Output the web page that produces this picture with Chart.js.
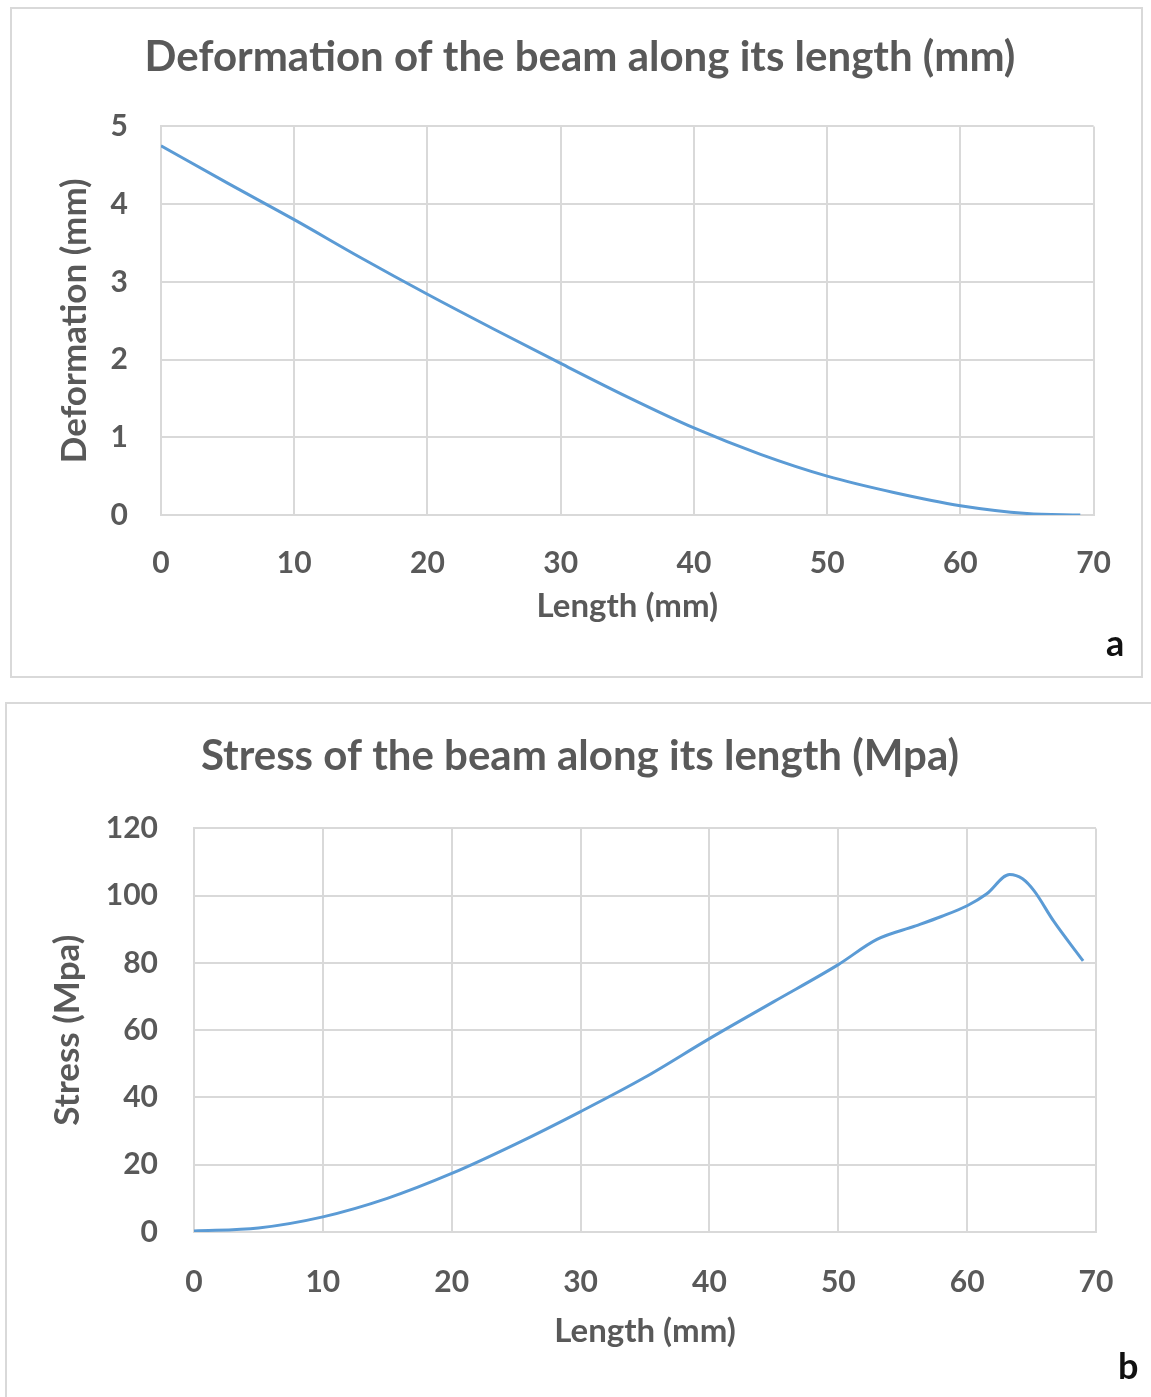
<!DOCTYPE html>
<html lang="en">
<head>
    <meta charset="UTF-8">
    <title>Beam deformation and stress</title>
    <script src="https://cdn.jsdelivr.net/npm/chart.js"></script>
    <style>
        html, body { margin: 0; padding: 0; background: #fff; overflow: hidden; width: 1151px; height: 1397px; }
        .box { position: absolute; box-sizing: border-box; border: 2px solid #d9d9d9; background: #fff; }
        #boxA { left: 10px; top: 7px; width: 1133px; height: 671px; }
        #boxB { left: 5px; top: 702px; width: 1160px; height: 710px; }
        .tag { position: absolute; font-family: Lato, sans-serif; font-weight: bold; font-size: 36px; color: #111; }
    </style>
</head>
<body>
    <div class="box" id="boxA"><canvas id="chartA"></canvas></div>
    <div class="box" id="boxB"><canvas id="chartB"></canvas></div>
    <div class="tag" style="left:1106px; top:620px;">a</div>
    <div class="tag" style="left:1118px; top:1343px;">b</div>

<script>
    // valores (mm)
    var lengthA = [0, 5, 10, 15, 20, 25, 30, 35, 40, 45, 50, 55, 60, 65, 69];
    var deformation = [4.75, 4.27, 3.80, 3.31, 2.84, 2.39, 1.95, 1.52, 1.12, 0.78, 0.50, 0.29, 0.12, 0.02, 0.0];

    var lengthB = [0, 5, 10, 15, 20, 25, 30, 35, 40, 45, 50, 53, 56, 58, 60, 61.5, 63.3, 64.3, 65.2, 66.7, 69];
    var stress = [0.3, 1.2, 4.5, 10, 17.4, 26.2, 35.8, 46, 57.5, 68.5, 79.5, 87, 91, 93.8, 97, 100.5, 106.3, 105, 101.4, 92.5, 80.6];

    var xTicks = [0, 10, 20, 30, 40, 50, 60, 70];

    var grey = '#595959';
    var gridColor = '#d9d9d9';
    var lineColor = '#5b9bd5';
    var fam = 'Lato, sans-serif';

    function pontos(xs, ys) {
        var out = [];
        for (let i = 0; i < xs.length; i++) {
            out.push({ x: xs[i], y: ys[i] });
        }
        return out;
    }

    function montar(ctx, cfg) {
        return new Chart(ctx, {
            type: 'scatter',
            data: {
                datasets: [{
                    data: pontos(cfg.xs, cfg.ys),
                    showLine: true,
                    borderColor: lineColor,
                    borderWidth: 3,
                    pointRadius: 0,
                    cubicInterpolationMode: 'monotone',
                    fill: false
                }]
            },
            options: {
                responsive: true,
                maintainAspectRatio: false,
                animation: false,
                // padding esquerda tambem serve pra centralizar o titulo
                layout: { padding: { left: cfg.padLeft, right: cfg.padRight, top: 0, bottom: 0 } },
                plugins: {
                    legend: { display: false },
                    tooltip: { enabled: false },
                    title: {
                        display: true,
                        text: cfg.title,
                        color: grey,
                        font: { family: fam, size: 42, weight: 'bold' },
                        padding: { top: cfg.titleTop, bottom: cfg.titleBottom }
                    }
                },
                scales: {
                    x: {
                        type: 'linear',
                        min: 0,
                        max: 70,
                        afterBuildTicks: function (s) { s.ticks = xTicks.map(v => ({ value: v })); },
                        afterFit: function (s) { s.height = cfg.xHeight; },
                        ticks: { color: grey, font: { family: fam, size: 30, weight: 'bold' }, padding: cfg.xTickPad, maxRotation: 0 },
                        grid: { color: gridColor, lineWidth: 2, drawTicks: false },
                        border: { color: gridColor, width: 2 },
                        title: {
                            display: true,
                            text: 'Length (mm)',
                            color: grey,
                            font: { family: fam, size: 33, weight: 'bold' },
                            padding: { top: 0, bottom: cfg.xTitlePad }
                        }
                    },
                    y: {
                        min: 0,
                        max: cfg.yMax,
                        afterBuildTicks: function (s) { s.ticks = cfg.yTicks.map(v => ({ value: v })); },
                        afterFit: function (s) { s.width = cfg.yWidth; },
                        ticks: { color: grey, font: { family: fam, size: 30, weight: 'bold' }, padding: cfg.yTickPad },
                        grid: { color: gridColor, lineWidth: 2, drawTicks: false },
                        border: { color: gridColor, width: 2 },
                        title: {
                            display: true,
                            text: cfg.yTitle,
                            color: grey,
                            font: { family: fam, size: 35, weight: 'bold' },
                            padding: { top: cfg.yTitlePad, bottom: 0 }
                        }
                    }
                }
            }
        });
    }

    montar(document.getElementById('chartA'), {
        xs: lengthA, ys: deformation,
        title: 'Deformation of the beam along its length (mm)',
        yTitle: 'Deformation (mm)',
        yMax: 5, yTicks: [0, 1, 2, 3, 4, 5],
        padLeft: 50, padRight: 43, titleTop: 23, titleBottom: 44,
        xHeight: 161, xTickPad: 30, xTitlePad: 50,
        yWidth: 99, yTickPad: 33, yTitlePad: -8
    });

    montar(document.getElementById('chartB'), {
        xs: lengthB, ys: stress,
        title: 'Stress of the beam along its length (Mpa)',
        yTitle: 'Stress (Mpa)',
        yMax: 120, yTicks: [0, 20, 40, 60, 80, 100, 120],
        padLeft: 57, padRight: 67, titleTop: 27, titleBottom: 47,
        xHeight: 178, xTickPad: 32, xTitlePad: 59,
        yWidth: 130, yTickPad: 36, yTitlePad: -17
    });
</script>
</body>
</html>
